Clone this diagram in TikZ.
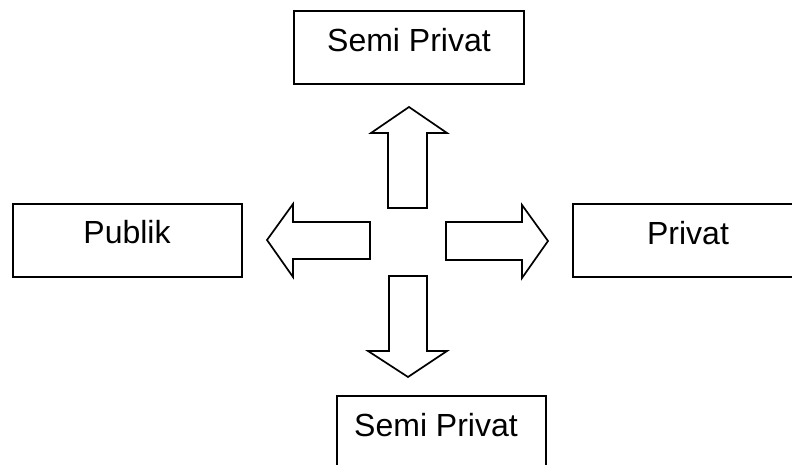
\documentclass[tikz,border=0pt]{standalone}
\usepackage{fontspec}
\setmainfont{Liberation Sans}
\begin{document}
\begin{tikzpicture}[x=1bp,y=-1bp,
  zonebox/.style={draw=black,line width=1.8bp},
  blockarrow/.style={draw=black,fill=white,line width=1.7bp,line join=miter},
  zonelabel/.style={font=\fontsize{32bp}{38bp}\selectfont,anchor=base,inner sep=0pt}]
\useasboundingbox (0,0) rectangle (792,465);

% zone boxes
\draw[zonebox] (294,11) rectangle (524,84);
\draw[zonebox] (13,204) rectangle (242,277);
\draw[zonebox] (800,204) -- (573,204) -- (573,277) -- (800,277);
\draw[zonebox] (337,470) -- (337,396) -- (546,396) -- (546,470);

% zone labels
\node[zonelabel] (top) at (409,52) {Semi Privat};
\node[zonelabel] (publik) at (127,244) {Publik};
\node[zonelabel] (privat) at (688,245) {Privat};
\node[zonelabel] (bottom) at (436,436) {Semi Privat};

% block arrows from the centre
\draw[blockarrow] (388,208) -- (388,133) -- (371,133) -- (409,107)
  -- (447,133) -- (427,133) -- (427,208) -- cycle;
\draw[blockarrow] (370,222) -- (293,222) -- (293,204) -- (267,240)
  -- (293,277) -- (293,259) -- (370,259) -- cycle;
\draw[blockarrow] (446,222) -- (522,222) -- (522,205) -- (548,241)
  -- (522,278) -- (522,260) -- (446,260) -- cycle;
\draw[blockarrow] (389,276) -- (389,351) -- (368,351) -- (408,377)
  -- (447,351) -- (427,351) -- (427,276) -- cycle;
\end{tikzpicture}
\end{document}
